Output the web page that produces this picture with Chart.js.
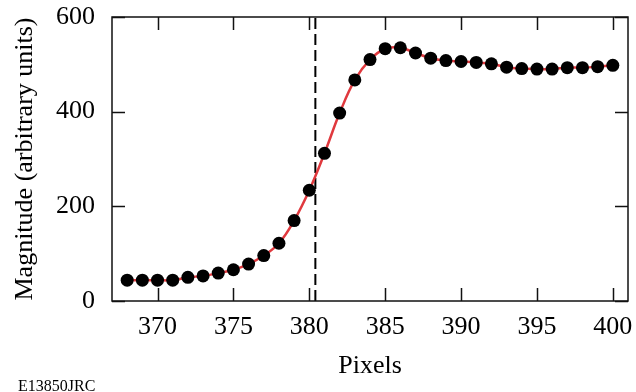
<!DOCTYPE html>
<html>
<head>
<meta charset="utf-8">
<script src="https://cdn.jsdelivr.net/npm/chart.js@4/dist/chart.umd.min.js"></script>
<style>
  html, body { margin: 0; padding: 0; background: #fff; }
  canvas { display: block; }
</style>
</head>
<body>
<canvas id="edgeChart" width="636" height="392"></canvas>
<script>
// Edge profile samples: pixel position vs. measured magnitude
const pixels = [368, 369, 370, 371, 372, 373, 374, 375, 376, 377, 378, 379, 380, 381, 382, 383, 384,
                385, 386, 387, 388, 389, 390, 391, 392, 393, 394, 395, 396, 397, 398, 399, 400];
const magnitude = [44, 44, 44, 44, 50, 53, 59, 66, 78, 96, 122, 170, 234, 312, 397, 467, 510,
                   533, 535, 524, 513, 508, 506, 504, 501, 494, 491, 490, 490, 493, 493, 495, 498];
const xTicks = [370, 375, 380, 385, 390, 395, 400];
const yTicks = [0, 200, 400, 600];
const edgePosition = 380.4;
const figureId = 'E13850JRC';

const serif = '"Liberation Serif", "Times New Roman", serif';
const samples = pixels.map((p, i) => ({ x: p, y: magnitude[i] }));

// frame with inward ticks on all four sides, plus the figure id
const frameTicks = {
  id: 'frameTicks',
  afterDatasetsDraw(chart) {
    const { ctx, chartArea: a, scales: { x, y } } = chart;
    const len = 13;
    ctx.save();
    ctx.strokeStyle = '#111';
    ctx.lineWidth = 1.5;
    ctx.strokeRect(a.left, a.top, a.right - a.left, a.bottom - a.top);
    ctx.beginPath();
    xTicks.forEach(v => {
      const px = Math.round(x.getPixelForValue(v)) + 0.5;
      ctx.moveTo(px, a.bottom); ctx.lineTo(px, a.bottom - len);
      ctx.moveTo(px, a.top); ctx.lineTo(px, a.top + len);
    });
    yTicks.forEach(v => {
      const py = Math.round(y.getPixelForValue(v)) + 0.5;
      ctx.moveTo(a.left, py); ctx.lineTo(a.left + len, py);
      ctx.moveTo(a.right, py); ctx.lineTo(a.right - len, py);
    });
    ctx.stroke();
    ctx.fillStyle = '#000';
    ctx.font = '16px ' + serif;
    ctx.textBaseline = 'alphabetic';
    ctx.fillText(figureId, 18, 391);
    ctx.restore();
  }
};

new Chart(document.getElementById('edgeChart'), {
  type: 'line',
  data: {
    datasets: [
      {
        data: samples,
        showLine: false,
        pointRadius: 6.5,
        pointBackgroundColor: '#000',
        pointBorderWidth: 0
      },
      {
        data: samples,
        borderColor: '#e0393e',
        borderWidth: 2.5,
        tension: 0.4,
        pointRadius: 0
      },
      {
        data: [{ x: edgePosition, y: 0 }, { x: edgePosition, y: 600 }],
        borderColor: '#000',
        borderWidth: 2,
        borderDash: [11, 5],
        pointRadius: 0
      }
    ]
  },
  options: {
    responsive: false,
    animation: false,
    layout: { padding: { left: 0, right: 8, top: 17, bottom: 0 } },
    plugins: { legend: { display: false }, tooltip: { enabled: false } },
    scales: {
      x: {
        type: 'linear',
        min: 367,
        max: 401,
        afterBuildTicks: s => { s.ticks = xTicks.map(v => ({ value: v })); },
        afterFit: s => { s.height = 91; s.paddingLeft = 0; s.paddingRight = 0; },
        grid: { display: false, drawTicks: false },
        border: { display: false },
        ticks: { color: '#000', padding: 11, font: { family: serif, size: 26 } },
        title: {
          display: true,
          text: 'Pixels',
          color: '#000',
          padding: { bottom: 10 },
          font: { family: serif, size: 26 }
        }
      },
      y: {
        min: 0,
        max: 600,
        afterBuildTicks: s => { s.ticks = yTicks.map(v => ({ value: v })); },
        afterFit: s => { s.width = 112; s.paddingTop = 0; s.paddingBottom = 0; },
        grid: { display: false, drawTicks: false },
        border: { display: false },
        ticks: { color: '#000', padding: 17, font: { family: serif, size: 26 } },
        title: {
          display: true,
          text: 'Magnitude (arbitrary units)',
          color: '#000',
          padding: { top: 10 },
          font: { family: serif, size: 26 }
        }
      }
    }
  },
  plugins: [frameTicks]
});
</script>
</body>
</html>
